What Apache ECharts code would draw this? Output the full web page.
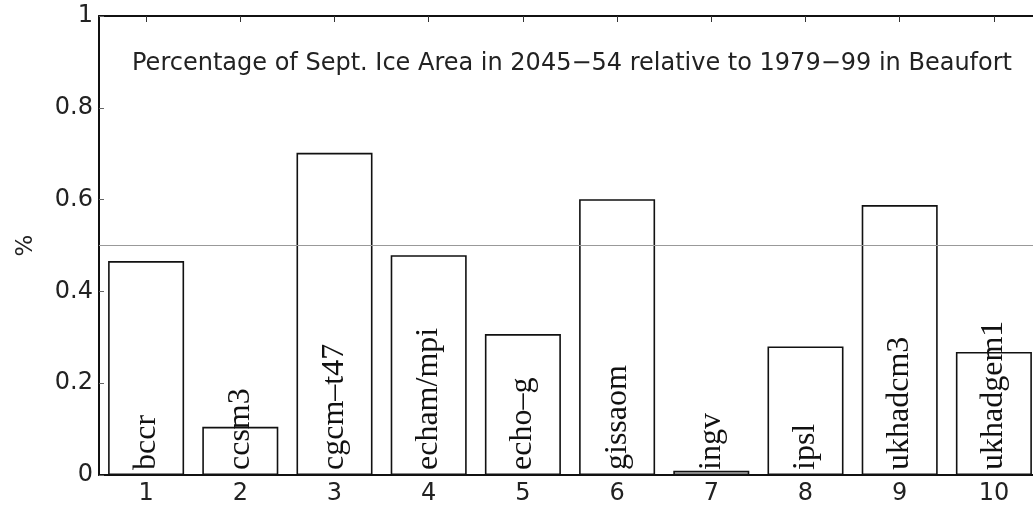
<!DOCTYPE html>
<html>
<head>
<meta charset="utf-8">
<script src="https://cdn.jsdelivr.net/npm/echarts@6/dist/echarts.min.js"></script>
<style>html,body{margin:0;padding:0;background:#fff;overflow:hidden;width:1033px;height:508px;}#c{width:1041px;height:508px;}</style>
</head>
<body>
<div id="c"></div>
<script>
const categories = ['1','2','3','4','5','6','7','8','9','10'];
const modelNames = ['bccr','ccsm3','cgcm\u2013t47','echam/mpi','echo\u2013g','gissaom','ingv','ipsl','ukhadcm3','ukhadgem1'];
const iceFraction = [0.466, 0.105, 0.702, 0.479, 0.307, 0.601, 0.009, 0.280, 0.588, 0.268];
const yTicks = [0, 0.2, 0.4, 0.6, 0.8, 1];
const referenceLevel = 0.5;
const titleText = 'Percentage of Sept. Ice Area in 2045\u221254 relative to 1979\u221299 in Beaufort';

const chart = echarts.init(document.getElementById('c'), null, {renderer:'canvas'});
const sans = 'DejaVu Sans';
chart.setOption({
  animation: false,
  backgroundColor: '#fff',
  title: {
    text: titleText,
    left: 127, top: 47,
    textStyle: {fontFamily: sans, fontWeight: 'normal', fontSize: 24, color: '#222'}
  },
  grid: {left: 99, top: 16, width: 942, height: 459, containLabel: false},
  xAxis: [{
    type: 'category', data: categories, position: 'bottom',
    axisLine: {lineStyle: {color: '#111', width: 2}},
    axisTick: {show: false},
    axisLabel: {fontFamily: sans, fontSize: 24, color: '#222', margin: 7}
  }, {
    type: 'category', data: categories, position: 'top',
    axisLine: {lineStyle: {color: '#111', width: 2}},
    axisTick: {show: true, inside: true, alignWithLabel: true, length: 6, lineStyle: {color: '#333', width: 1}},
    axisLabel: {show: false}
  }],
  yAxis: {
    type: 'value', min: yTicks[0], max: yTicks[yTicks.length-1], interval: 0.2,
    name: '%', nameLocation: 'middle', nameGap: 61, nameRotate: 90,
    nameTextStyle: {fontFamily: sans, fontSize: 23, color: '#222'},
    axisLine: {show: true, lineStyle: {color: '#111', width: 2}},
    axisTick: {show: true, inside: true, length: 5, lineStyle: {color: '#666', width: 1}},
    axisLabel: {fontFamily: sans, fontSize: 24, color: '#222', margin: 6},
    splitLine: {show: false}
  },
  series: [{
    type: 'bar', xAxisIndex: 0, data: iceFraction, barWidth: '80.7%',
    itemStyle: {color: '#fff', borderColor: '#111', borderWidth: 1.6},
    label: {
      show: true, position: 'insideBottom', rotate: 90, align: 'left', verticalAlign: 'middle',
      distance: 5, fontFamily: 'Liberation Serif', fontSize: 32, color: '#111',
      formatter: p => modelNames[p.dataIndex]
    },
    markLine: {
      silent: true, symbol: 'none', label: {show: false},
      lineStyle: {color: '#999', type: 'solid', width: 1},
      data: [{yAxis: referenceLevel}]
    }
  }]
});
</script>
</body>
</html>
